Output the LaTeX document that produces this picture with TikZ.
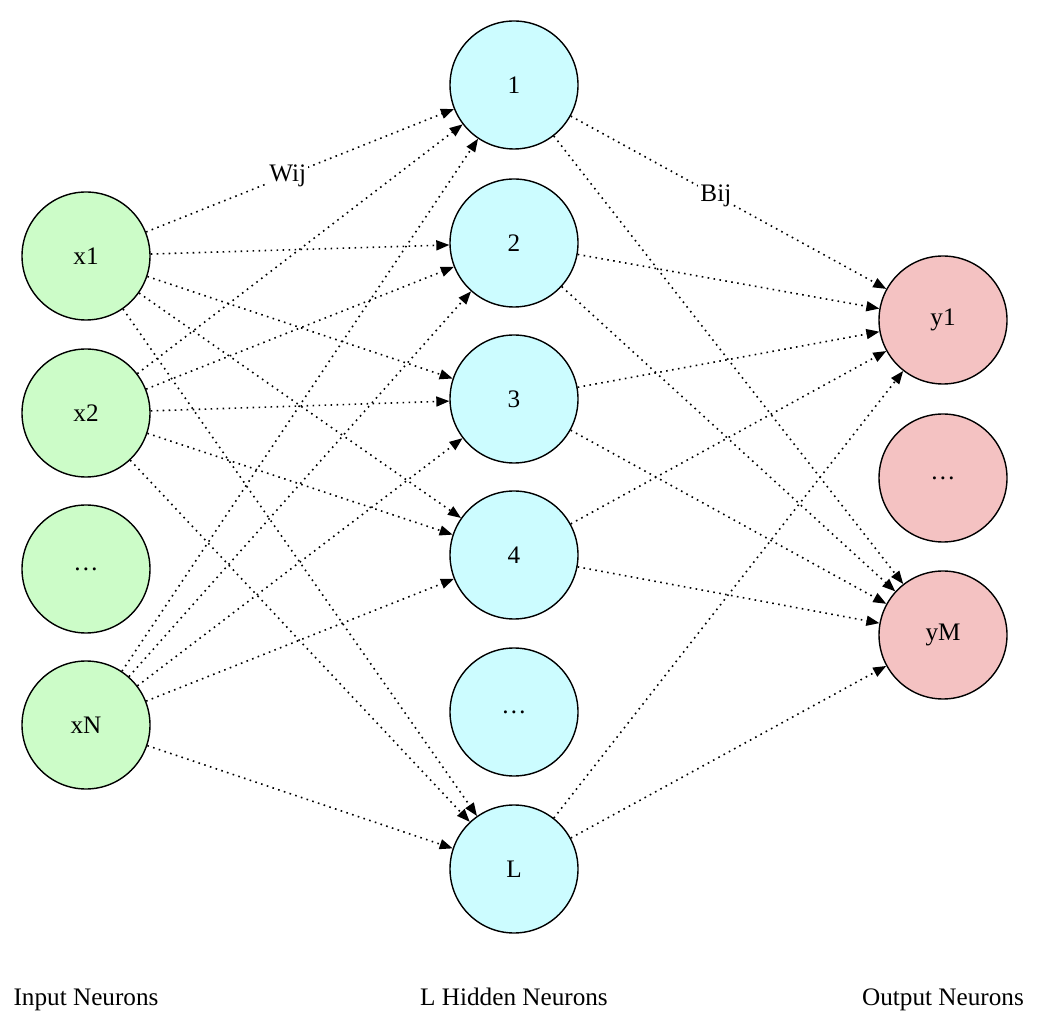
\documentclass[tikz,border=0pt]{standalone}
\usepackage{fontspec}
\setmainfont{Liberation Serif}
\usetikzlibrary{arrows.meta}
\definecolor{ingreen}{RGB}{204,252,200}
\definecolor{hidcyan}{RGB}{204,252,255}
\definecolor{outpink}{RGB}{244,194,194}
\tikzset{
    neuron/.style={circle, draw, line width=0.7pt, minimum size=64pt, inner sep=0pt},
    weight/.style={-{Triangle[length=6.5pt,width=5pt]}, line width=0.8pt, dash pattern=on 0.8pt off 2.2pt},
    wlabel/.style={fill=white, inner sep=1pt, solid},
    layer/.style={anchor=base}
}
\begin{document}
\begin{tikzpicture}[x=0.5pt, y=-0.5pt, font=\fontsize{12.6}{15}\selectfont]
            \useasboundingbox (0,0) rectangle (1038,1036);

            \node[neuron, fill=ingreen] (x1) at (86,256) {x1};
            \node[neuron, fill=ingreen] (x2) at (86,413) {x2};
            \node[neuron, fill=ingreen] (xd) at (86,569) {…};
            \node[neuron, fill=ingreen] (xN) at (86,725) {xN};

            \node[neuron, fill=hidcyan] (h1) at (514,85) {1};
            \node[neuron, fill=hidcyan] (h2) at (514,243) {2};
            \node[neuron, fill=hidcyan] (h3) at (514,399) {3};
            \node[neuron, fill=hidcyan] (h4) at (514,555) {4};
            \node[neuron, fill=hidcyan] (hd) at (514,712) {…};
            \node[neuron, fill=hidcyan] (hL) at (514,869) {L};

            \node[neuron, fill=outpink] (y1) at (943,320) {y1};
            \node[neuron, fill=outpink] (yd) at (943,478) {…};
            \node[neuron, fill=outpink] (yM) at (943,635) {yM};

            \node[layer] (inlab) at (86,1005) {Input Neurons};
            \node[layer] (hidlab) at (514,1005) {L Hidden Neurons};
            \node[layer] (outlab) at (943,1005) {Output Neurons};

            % input to hidden
            \foreach \a/\b in {x1/h2, x1/h3, x1/h4, x1/hL, x2/h1, x2/h2, x2/h3, x2/h4, x2/hL,
                               xN/h1, xN/h2, xN/h3, xN/h4, xN/hL}
                \draw[weight] (\a) -- (\b);
            \draw[weight] (x1) -- node[wlabel, pos=0.46] {Wij} (h1);

            % hidden to output
            \foreach \a/\b in {h1/yM, h2/y1, h2/yM, h3/y1, h3/yM, h4/y1, h4/yM, hL/y1, hL/yM}
                \draw[weight] (\a) -- (\b);
            \draw[weight] (h1) -- node[wlabel, pos=0.46] {Bij} (y1);
\end{tikzpicture}
\end{document}
